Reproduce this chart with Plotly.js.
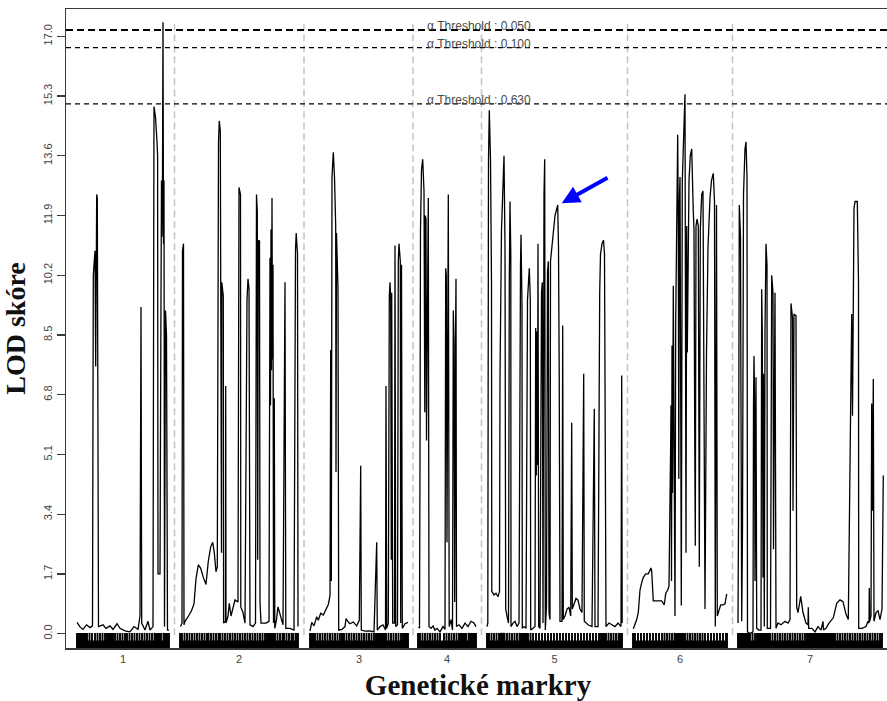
<!DOCTYPE html>
<html>
<head>
<meta charset="utf-8">
<script src="https://cdn.plot.ly/plotly-3.0.1.min.js"></script>
<style>
  html, body { margin: 0; padding: 0; overflow: hidden; background: #fff; }
  #chart { width: 895px; height: 701px; }
</style>
</head>
<body>
<div id="chart"></div>
<script>
// Chromosome names and their extents on the cumulative map axis
const chrNames = ['1', '2', '3', '4', '5', '6', '7'];
const chrStart = [77, 180, 310, 418, 487, 633, 738];
const chrEnd   = [169, 298, 408, 476, 622, 727, 882];

// LOD profile per chromosome: [cumulative position, LOD]
const chr1 = [[77,0.32],[80,0.19],[83,0.12],[86.5,0.25],[90,0.17],[92.5,0.22],[93.3,10.2],[95,10.9],[95.7,7.6],[96.7,12.5],[97.3,12.4],[98.5,0.2],[103,0.25],[106,0.15],[110,0.22],[113,0.12],[117,0.28],[120,0.15],[125,0.08],[130,0.05],[134,0.2],[138,0.12],[140,0.5],[141,9.3],[141.7,0.3],[145,0.1],[148,0.35],[150,0.1],[153,0.2],[154,15.0],[155.5,14.7],[157,14.0],[157.6,13.6],[158,1.7],[160,1.7],[161,9.6],[161.5,12.9],[162,11.3],[162.5,13.1],[163,17.4],[163.5,11.1],[164,12.9],[164.5,0.2],[165.5,9.2],[166.5,8.5],[167.5,0.1],[169,0.1]];
const chr2 = [[180.5,0.2],[182,0.3],[182.5,10.9],[183.5,11.1],[184,0.25],[185,0.35],[188.5,0.5],[191.5,0.65],[194,0.85],[196,1.56],[198.3,1.96],[200.7,1.86],[203.3,1.6],[206,1.4],[208.3,2.06],[210.7,2.47],[212.7,2.6],[214.3,2.3],[216,1.76],[217.3,1.9],[218.5,14.0],[219.3,14.6],[220.3,14.3],[220.8,2.3],[221.5,2.3],[221.8,10.0],[222.5,9.8],[223.3,9.6],[223.6,0.3],[225.5,0.35],[225.7,7.05],[226,0.3],[228,0.5],[229.3,0.86],[231,0.5],[233,0.76],[235,0.96],[238,0.9],[239,12.7],[240.5,12.5],[240.8,0.76],[243,0.6],[245,0.3],[247,9.5],[248,10.1],[249,9.8],[250,0.25],[253,0.2],[255.5,0.3],[256.5,12.5],[257.3,12.0],[257.7,2.1],[258.3,11.2],[259,10.8],[259.5,11.2],[260,0.9],[261,0.3],[263,0.3],[266,0.3],[269,0.35],[269.5,8.9],[270,10.7],[270.5,6.5],[271,11.5],[271.5,7.5],[272,12.4],[272.5,7.8],[273,10.5],[273.5,0.3],[274.3,6.7],[274.8,0.15],[276.5,0.4],[278,0.76],[280,0.55],[283,0.25],[285,10.0],[285.8,0.15],[290,0.15],[294,0.1],[295.5,10.9],[296.2,11.4],[297.5,10.8],[298,0.2]];
const chr3 = [[310,0.07],[311.7,0.32],[314,0.22],[316.7,0.48],[318.3,0.38],[320.7,0.58],[323.3,0.53],[326,0.68],[328.3,0.83],[330,1.08],[330.7,8.07],[331.3,1.5],[332,13.0],[333.3,13.7],[334.5,13.0],[335.7,11.6],[336,4.6],[336.5,11.4],[338,9.8],[338.7,0.1],[342,0.12],[345,0.2],[346,0.43],[348.3,0.33],[350,0.28],[353.3,0.33],[356.7,0.22],[359.3,0.38],[360.7,4.78],[361.3,0.1],[365,0.07],[370,0.08],[374,0.05],[376.7,2.6],[377.3,0.1],[380,0.2],[383,0.25],[385.5,0.1],[386,7.05],[386.7,0.15],[388.3,0.3],[389.3,9.6],[390,10.0],[390.7,9.5],[391.3,2.1],[391.7,9.7],[392.3,1.1],[392.7,0.3],[394.5,0.3],[395,11.05],[395.7,0.2],[397.5,0.25],[398.3,10.6],[399,11.1],[400.3,10.6],[400.7,0.3],[401.5,10.5],[402.3,0.15],[405,0.28],[408,0.32]];
const chr4 = [[418.3,0.17],[419.5,0.17],[420,5.0],[420.5,11.5],[421.5,13.2],[422.7,13.5],[424,12.6],[424.8,6.3],[425.3,11.9],[426,11.8],[426.5,5.5],[427.5,12.0],[428.3,12.4],[429,0.2],[431,0.15],[433,0.22],[435,0.1],[437,0.15],[440,0.05],[443,0.2],[445,0.12],[445.7,10.4],[446.3,10.2],[447,2.6],[447.5,11.5],[448.3,12.5],[449.2,0.2],[451,0.4],[452.5,0.1],[453.3,9.2],[454,8.3],[454.7,0.9],[455.5,8.3],[456,10.1],[456.5,0.2],[459,0.25],[462,0.15],[465,0.3],[468,0.2],[471,0.35],[474,0.3],[476,0.2]];
const chr5 = [[487,0.2],[487.8,0.3],[488.5,13.5],[489.3,14.9],[490.5,13.5],[491.5,10.0],[491.8,1.2],[494,1.1],[496,1.15],[498,1.05],[499.5,1.2],[500,7.3],[501.5,11.5],[503,13.3],[504,13.6],[505,11.0],[505.7,0.7],[507,0.5],[508.5,0.3],[509.3,10.0],[510,12.3],[510.8,10.8],[511,0.2],[513,0.3],[515,0.35],[517,0.2],[519,0.3],[520.5,10.5],[521,11.35],[522,9.3],[522.3,0.15],[524,0.2],[526,0.15],[527.5,9.5],[528.5,10.3],[529.3,10.4],[530.3,9.5],[530.7,0.1],[533,0.15],[535,0.2],[535.7,8.7],[536.3,4.5],[537,8.6],[537.5,4.8],[538,11.1],[538.7,0.2],[540,0.15],[541.5,9.7],[542.3,10.0],[543,0.3],[544,12.5],[544.7,13.5],[545.3,0.1],[546.5,0.8],[547.5,10.3],[548.3,10.6],[549,0.6],[550,0.4],[550.5,10.6],[552,11.1],[553,11.4],[555,11.9],[557.7,12.2],[558.5,11.0],[559.2,7.5],[560,0.35],[562,0.35],[562.7,8.77],[563.3,0.4],[565,0.5],[567,0.7],[569,0.75],[570.7,0.5],[571.7,6.0],[572.3,0.7],[574,0.85],[576,1.0],[578,0.95],[580,0.7],[582,0.6],[583.7,7.4],[584.3,0.35],[588,0.25],[592,0.2],[594.3,6.4],[595,0.2],[598,0.2],[599.7,9.7],[600.5,10.8],[602,11.1],[603.5,11.2],[604.5,10.8],[605,7.9],[606,0.2],[609,0.3],[612,0.25],[615,0.2],[618,0.3],[621,0.2],[621.7,7.35],[622.2,0.3]];
const chr6 = [[633.3,0.14],[636.7,0.4],[638.3,0.6],[640,1.24],[641.7,1.45],[643.3,1.6],[645.7,1.7],[648.3,1.7],[651,1.87],[651.7,1.77],[653.3,0.93],[655.7,0.93],[658.3,0.93],[661.7,0.93],[664.3,0.82],[665.7,1.14],[667.7,1.24],[669,1.35],[670.7,5.5],[671,6.5],[671.5,1.5],[672,8.2],[672.5,4.0],[673.3,9.9],[673.8,7.0],[674.3,3.0],[675,0.5],[675.7,8.9],[676.5,12.0],[677.7,14.2],[678.3,11.5],[678.8,4.4],[679.3,12.2],[680,13.0],[680.7,6.8],[681.3,0.8],[682.3,12.9],[683.3,14.0],[685,15.35],[686,2.3],[686.7,11.6],[687.3,8.0],[688,11.5],[689,12.9],[690.3,13.6],[691.7,13.8],[693.3,12.0],[694,11.5],[694.7,5.8],[695.3,2.5],[696,11.6],[697,11.8],[698.3,11.6],[699.3,1.9],[700.3,11.5],[701.7,12.5],[703,12.6],[704,4.0],[705,0.7],[706.5,8.0],[708,11.0],[710,12.4],[711.5,12.9],[713.3,13.1],[714.5,12.3],[715.3,0.2],[716,8.0],[716.5,12.2],[717.3,0.5],[718.5,0.6],[720.7,0.82],[723.3,0.82],[725,0.85],[726.7,1.13]];
const chr7 = [[738,0.3],[738.5,3.07],[739.3,12.2],[740.5,11.3],[741,6.4],[741.7,0.35],[742.5,3.0],[743.5,12.5],[745,13.8],[746,14.0],[747,13.0],[747.5,0.05],[750,0.0],[753,0.05],[753.5,6.5],[754,7.9],[754.5,6.8],[755,1.5],[756,7.3],[756.7,0.15],[759,0.1],[761,0.1],[761.7,9.8],[762.3,8.6],[763,1.6],[763.5,7.4],[764.3,0.2],[765,8.6],[766,11.1],[767,10.5],[767.3,0.15],[769,0.15],[770.5,0.15],[771.7,10.2],[773,9.7],[773.5,2.4],[774.3,9.6],[775,9.7],[776,0.15],[778,0.3],[781,0.25],[785,0.35],[788,0.3],[790,0.4],[791,9.4],[792.5,9.0],[793,3.5],[794,9.1],[796,9.05],[796.7,0.75],[798,0.6],[800.7,1.06],[803,0.6],[806,0.3],[808,0.25],[808.3,0.75],[808.7,0.15],[812,0.15],[815,0.05],[818,0.2],[821,0.1],[823,0.35],[823.5,0.1],[826,0.15],[829,0.3],[833.3,0.45],[836.7,0.86],[840,0.96],[843,0.91],[846,0.55],[848.3,0.4],[850,5.0],[851.7,9.1],[852.5,6.2],[853.3,10.0],[854,12.1],[855,12.3],[857.3,12.3],[858.5,10.0],[858.7,0.15],[862,0.15],[866,0.2],[868,0.35],[869,0.3],[869.3,1.3],[869.7,0.35],[871,0.5],[871.7,6.55],[872.5,3.5],[873.3,7.25],[874,0.35],[876,0.6],[878,0.65],[880,0.4],[882,0.7],[883.3,4.5]];
const profiles = [chr1, chr2, chr3, chr4, chr5, chr6, chr7];

// Marker positions (rug under the profile)
const markers1 = [77,78,79,80,81,82,83,84,85,86,87,89.5,92,95,97.5,100,102.5,105,107,108,109,110,111,112,113,115,117.5,120,122.5,125,127,129.5,132,134.5,137,139.5,142,144.5,147,149.5,152,154.5,156,157,158,159,160,161,163.5,165,166,167,168,169];
const markers2 = [180,181,182,184.5,187,189.5,192,194.5,197,199.5,202,204.5,207,208.5,211,213.5,216,218.5,220,222.5,225,227.5,230,232.5,235,237.5,240,242.5,245,247.5,250,252.5,255,257.5,260,262.5,265,267,268,269,270,271,272,273,274,275,277.5,280,282.5,284,286.5,289,291.5,293,295.5,297,298];
const markers3 = [310,311,312,313,314,315,317.5,320,322.5,325,327.5,330,332.5,335,337.5,340,342,343,344,346.5,349,351.5,354,356.5,359,361.5,364,366.5,369,371.5,374,376,377,378,379,380,381,382,383,384,385,386,388.5,391,393.5,396,398.5,401,403,404,405,406,407,408];
const markers4 = [418,419,420,422.5,425,427.5,430,432.5,435,437.5,440,444,446.5,449,451.5,454,456.5,459,460,461,462,463,464,465,466,468.5,470,471,472,473,474,475,476];
const markers5 = [487,488,489,491.5,494,496.5,499,500.5,501.5,502.5,503.5,504.5,507,509.5,512,514.5,517,519.5,521,522,523,524,525,526,527,528,530.5,533,536,539,542,545,548,551,554,557,560,563,566,569,572,575,578,581,584,587,590,593,596,599,601,602,603,604,605,606,608.5,611,613.5,616,618.5,620,621,622];
const markers6 = [633,634,635,638,641,644,647,650,653,656,659,662,664.5,667,669.5,672,674.5,676,677,678,679,680,681,682,683,684,685,687.5,690,692.5,695,697.5,700,702.5,705,708,711,714,717,720,723,726,727];
const markers7 = [738,739,740,741,742,743,744,745,746,747,748,749,750,752.5,755,757,758,759,760,761,762,763,764,765,766,767,768,769,770,772.5,775,777.5,780,782.5,785,787.5,790,792.5,795,797.5,800,802.5,805,807,808,809,810,811,812,813,814,815,816,817,818,819,820,821,822,823,824,825,826,827,828,829,830,831,832,833,834,835,837.5,840,842.5,845,847.5,850,852.5,855,857.5,860,862.5,865,867.5,870,872.5,875,877.5,880,882];
const markerSets = [markers1, markers2, markers3, markers4, markers5, markers6, markers7];

// Significance thresholds (LOD) and their labels
const thresholdLod = [17.18, 16.68, 15.08];
const thresholdText = ['α Threshold : 0.050', 'α Threshold : 0.100', 'α Threshold : 0.630'];

// Y tick values
const yTicks = [0, 1.7, 3.4, 5.1, 6.8, 8.5, 10.2, 11.9, 13.6, 15.3, 17.0];

// Highlighted peak on chromosome 5
const highlight = { x: 561.7, y: 12.25, tailX: 609, tailY: 13.0 };

const traces = [];

// LOD curves, one line per chromosome
profiles.forEach(function (p) {
  traces.push({
    type: 'scatter', mode: 'lines',
    x: p.map(function (d) { return d[0]; }),
    y: p.map(function (d) { return d[1]; }),
    line: { color: '#000', width: 1.3 },
    hoverinfo: 'skip'
  });
});

// Rug of marker ticks
const rugX = [], rugY = [];
markerSets.forEach(function (set) {
  set.forEach(function (m) {
    rugX.push(m, m, null);
    rugY.push(-0.41, 0.02, null);
  });
});
traces.push({
  type: 'scatter', mode: 'lines', x: rugX, y: rugY,
  line: { color: '#000', width: 1.9 }, hoverinfo: 'skip'
});

const shapes = [];
// solid base of the rug along each chromosome
chrNames.forEach(function (n, i) {
  shapes.push({
    type: 'rect', xref: 'x', yref: 'y',
    x0: chrStart[i], x1: chrEnd[i], y0: -0.41, y1: -0.2,
    fillcolor: '#000', line: { width: 0 }, layer: 'above'
  });
});
// dashed separators between chromosomes
for (let i = 0; i < chrNames.length - 1; i++) {
  const sx = (chrEnd[i] + chrStart[i + 1]) / 2;
  shapes.push({
    type: 'line', xref: 'x', yref: 'y', x0: sx, x1: sx, y0: -0.05, y1: 17.35,
    line: { color: '#c4c4c4', width: 1.5, dash: '7px,4px' }, layer: 'below'
  });
}
// threshold lines
thresholdLod.forEach(function (t, i) {
  shapes.push({
    type: 'line', xref: 'paper', yref: 'y', x0: 0, x1: 1, y0: t, y1: t,
    line: { color: '#000', width: i === 0 ? 2 : 1.2, dash: i === 0 ? '7px,4px' : '5px,4px' }
  });
});

const annotations = thresholdText.map(function (txt, i) {
  return {
    xref: 'x', yref: 'y', x: 425, y: thresholdLod[i],
    xanchor: 'left', yanchor: 'bottom', yshift: -5,
    text: txt, showarrow: false,
    font: { family: 'Liberation Sans, Arial, sans-serif', size: 12, color: '#4a4a4a' }
  };
});
annotations.push({
  xref: 'x', yref: 'y', axref: 'x', ayref: 'y',
  x: highlight.x, y: highlight.y, ax: highlight.tailX, ay: highlight.tailY,
  text: '', showarrow: true, arrowhead: 2, arrowsize: 0.9, arrowwidth: 4,
  arrowcolor: '#0000ff', standoff: 0
});

const centers = chrNames.map(function (n, i) { return (chrStart[i] + chrEnd[i]) / 2; });

const layout = {
  width: 895, height: 701,
  margin: { l: 66, r: 5, t: 9, b: 53 },
  paper_bgcolor: '#fff', plot_bgcolor: '#fff',
  showlegend: false,
  xaxis: {
    range: [66, 890], tickvals: centers, ticktext: chrNames,
    ticks: '', showline: true, mirror: true, linecolor: '#3a3a3a', linewidth: 1.5,
    showgrid: false, zeroline: false,
    tickfont: { family: 'Liberation Sans, Arial, sans-serif', size: 11, color: '#444' },
    title: { text: '<b>Genetické markry</b>', standoff: 11,
      font: { family: 'Liberation Serif, Times New Roman, serif', size: 29, color: '#111' } }
  },
  yaxis: {
    range: [-0.41, 17.78], tickvals: yTicks,
    ticktext: yTicks.map(function (v) { return v.toFixed(1); }),
    ticks: 'outside', ticklen: 8, tickwidth: 1.3, tickcolor: '#3a3a3a', tickangle: -90,
    showline: true, mirror: true, linecolor: '#3a3a3a', linewidth: 1.5,
    showgrid: false, zeroline: false,
    tickfont: { family: 'Liberation Sans, Arial, sans-serif', size: 11, color: '#444' },
    title: { text: '<b>LOD skóre</b>', standoff: 8,
      font: { family: 'Liberation Serif, Times New Roman, serif', size: 28, color: '#111' } }
  },
  shapes: shapes,
  annotations: annotations
};

Plotly.newPlot('chart', traces, layout, { displayModeBar: false, staticPlot: true });
</script>
</body>
</html>
